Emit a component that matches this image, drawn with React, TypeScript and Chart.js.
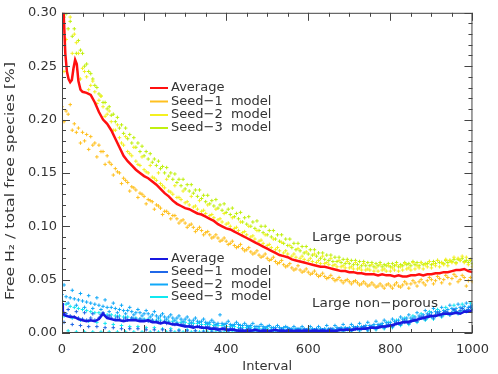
import React, { useEffect, useRef } from "react";
import { Chart, registerables } from "chart.js";
Chart.register(...registerables);

// ---------- DATA ----------
const intervals = [
  0, 10, 20, 30, 40, 50, 60, 70, 80, 90, 100, 110, 120, 130, 140, 150, 160, 170, 180, 190,
  200, 210, 220, 230, 240, 250, 260, 270, 280, 290, 300, 310, 320, 330, 340, 350, 360, 370, 380, 390,
  400, 410, 420, 430, 440, 450, 460, 470, 480, 490, 500, 510, 520, 530, 540, 550, 560, 570, 580, 590,
  600, 610, 620, 630, 640, 650, 660, 670, 680, 690, 700, 710, 720, 730, 740, 750, 760, 770, 780, 790,
  800, 810, 820, 830, 840, 850, 860, 870, 880, 890, 900, 910, 920, 930, 940, 950, 960, 970, 980, 990, 1000,
];
const offsetIntervals = [
  5, 25, 45, 65, 85, 105, 125, 145, 165, 185, 205, 225, 245, 265, 285, 305, 325, 345, 365, 385,
  405, 425, 445, 465, 485, 505, 525, 545, 565, 585, 605, 625, 645, 665, 685, 705, 725, 745, 765, 785,
  805, 825, 845, 865, 885, 905, 925, 945, 965, 985,
];
const offsetIntervals2 = [
  15, 35, 55, 75, 95, 115, 135, 155, 175, 195, 215, 235, 255, 275, 295, 315, 335, 355, 375, 395,
  415, 435, 455, 475, 495, 515, 535, 555, 575, 595, 615, 635, 655, 675, 695, 715, 735, 755, 775, 795,
  815, 835, 855, 875, 895, 915, 935, 955, 975, 995,
];

// Large porous — average line
const avgTopX = [
  0, 4, 8, 12, 16, 20, 24, 28, 32, 36, 40, 45, 50, 60, 70, 80, 90, 100, 110, 120, 130, 140, 150, 160, 170, 180, 190,
  200, 210, 220, 230, 240, 250, 260, 270, 280, 290, 300, 310, 320, 330, 340, 350, 360, 370, 380, 390,
  400, 410, 420, 430, 440, 450, 460, 470, 480, 490, 500, 510, 520, 530, 540, 550, 560, 570, 580, 590,
  600, 610, 620, 630, 640, 650, 660, 670, 680, 690, 700, 710, 720, 730, 740, 750, 760, 770, 780, 790,
  800, 810, 820, 830, 840, 850, 860, 870, 880, 890, 900, 910, 920, 930, 940, 950, 960, 970, 980, 990, 1000,
];
const avgTop = [
  0.34, 0.3, 0.262, 0.245, 0.238, 0.235, 0.237, 0.248, 0.256, 0.252, 0.236, 0.228, 0.226, 0.225, 0.223, 0.216, 0.207, 0.2, 0.196, 0.19, 0.182, 0.174, 0.166, 0.161, 0.157, 0.153, 0.15,
  0.147, 0.145, 0.142, 0.139, 0.135, 0.131, 0.128, 0.124, 0.121, 0.119, 0.117, 0.116, 0.114, 0.112, 0.111, 0.109, 0.107, 0.105, 0.102, 0.1,
  0.098, 0.097, 0.095, 0.093, 0.091, 0.089, 0.087, 0.085, 0.083, 0.081, 0.079, 0.077, 0.075, 0.073, 0.072, 0.071, 0.069, 0.068, 0.067, 0.066,
  0.065, 0.064, 0.063, 0.062, 0.062, 0.061, 0.06, 0.059, 0.058, 0.058, 0.057, 0.057, 0.056, 0.056, 0.055, 0.055, 0.055, 0.054, 0.055, 0.054,
  0.054, 0.053, 0.054, 0.053, 0.053, 0.054, 0.054, 0.055, 0.054, 0.055, 0.055, 0.056, 0.056, 0.057, 0.057, 0.058, 0.059, 0.059, 0.06, 0.058, 0.057,
];

// Large porous — seeds (three sampled bands each)
const seed1TopA = [
  0.212, 0.208, 0.214, 0.196, 0.192, 0.188, 0.186, 0.184, 0.178, 0.176, 0.17, 0.166, 0.158, 0.154, 0.15, 0.145, 0.141, 0.137, 0.134, 0.131,
  0.128, 0.125, 0.123, 0.12, 0.117, 0.114, 0.112, 0.11, 0.107, 0.105, 0.103, 0.101, 0.099, 0.097, 0.096, 0.094, 0.092, 0.09, 0.089, 0.087,
  0.086, 0.084, 0.082, 0.081, 0.079, 0.078, 0.076, 0.075, 0.073, 0.072, 0.07, 0.069, 0.067, 0.066, 0.064, 0.063, 0.061, 0.06, 0.059, 0.058,
  0.057, 0.056, 0.055, 0.054, 0.053, 0.052, 0.051, 0.05, 0.049, 0.049, 0.048, 0.048, 0.047, 0.046, 0.046, 0.045, 0.045, 0.044, 0.044, 0.045,
  0.044, 0.045, 0.044, 0.045, 0.046, 0.046, 0.047, 0.048, 0.047, 0.049, 0.05, 0.049, 0.051, 0.05, 0.052, 0.051, 0.053, 0.05, 0.052, 0.049, 0.048,
];
const seed1TopB = [
  0.198, 0.19, 0.178, 0.172, 0.165, 0.158, 0.148, 0.14, 0.133, 0.127, 0.121, 0.116, 0.111, 0.107, 0.103, 0.099, 0.095, 0.092, 0.089, 0.086,
  0.083, 0.08, 0.077, 0.074, 0.071, 0.068, 0.065, 0.062, 0.059, 0.057, 0.055, 0.053, 0.051, 0.049, 0.047, 0.046, 0.045, 0.044, 0.043, 0.042,
  0.042, 0.043, 0.042, 0.044, 0.045, 0.046, 0.047, 0.046, 0.048, 0.044,
];
const seed1TopC = [
  0.205, 0.188, 0.18, 0.176, 0.17, 0.16, 0.151, 0.143, 0.136, 0.13, 0.124, 0.119, 0.114, 0.11, 0.106, 0.102, 0.099, 0.095, 0.092, 0.089,
  0.086, 0.083, 0.08, 0.077, 0.074, 0.071, 0.068, 0.065, 0.063, 0.06, 0.058, 0.056, 0.054, 0.052, 0.05, 0.049, 0.048, 0.047, 0.046, 0.046,
  0.047, 0.048, 0.049, 0.05, 0.052, 0.053, 0.054, 0.055, 0.054, 0.052,
];
const seed2TopA = [
  0.29, 0.275, 0.296, 0.28, 0.262, 0.248, 0.24, 0.232, 0.226, 0.218, 0.212, 0.205, 0.198, 0.19, 0.183, 0.176, 0.17, 0.166, 0.161, 0.157,
  0.153, 0.15, 0.146, 0.143, 0.14, 0.136, 0.133, 0.13, 0.127, 0.125, 0.122, 0.12, 0.118, 0.116, 0.114, 0.112, 0.11, 0.108, 0.106, 0.104,
  0.102, 0.1, 0.098, 0.096, 0.094, 0.092, 0.09, 0.088, 0.086, 0.084, 0.082, 0.08, 0.078, 0.077, 0.075, 0.074, 0.072, 0.071, 0.07, 0.069,
  0.068, 0.067, 0.066, 0.065, 0.065, 0.064, 0.063, 0.062, 0.062, 0.061, 0.061, 0.06, 0.06, 0.059, 0.059, 0.059, 0.058, 0.058, 0.059, 0.058,
  0.058, 0.059, 0.058, 0.059, 0.06, 0.059, 0.06, 0.061, 0.06, 0.062, 0.061, 0.063, 0.062, 0.064, 0.063, 0.066, 0.065, 0.068, 0.066, 0.064, 0.062,
];
const seed2TopB = [
  0.245, 0.262, 0.238, 0.228, 0.215, 0.203, 0.19, 0.178, 0.168, 0.158, 0.151, 0.145, 0.138, 0.132, 0.127, 0.123, 0.119, 0.115, 0.111, 0.107,
  0.103, 0.099, 0.095, 0.091, 0.087, 0.083, 0.08, 0.077, 0.074, 0.072, 0.07, 0.068, 0.066, 0.064, 0.063, 0.062, 0.061, 0.06, 0.061, 0.06,
  0.061, 0.062, 0.061, 0.063, 0.064, 0.065, 0.066, 0.068, 0.07, 0.071,
];
const seed2TopC = [
  0.302, 0.272, 0.245, 0.236, 0.222, 0.208, 0.195, 0.184, 0.174, 0.165, 0.157, 0.15, 0.144, 0.138, 0.133, 0.128, 0.124, 0.12, 0.116, 0.112,
  0.108, 0.104, 0.1, 0.096, 0.092, 0.088, 0.085, 0.082, 0.079, 0.076, 0.074, 0.072, 0.07, 0.068, 0.067, 0.066, 0.065, 0.064, 0.064, 0.063,
  0.064, 0.065, 0.066, 0.066, 0.067, 0.068, 0.069, 0.071, 0.072, 0.069,
];
const seed3TopA = [
  0.305, 0.299, 0.292, 0.285, 0.274, 0.262, 0.252, 0.243, 0.232, 0.224, 0.216, 0.21, 0.204, 0.198, 0.192, 0.187, 0.182, 0.178, 0.174, 0.17,
  0.166, 0.163, 0.16, 0.157, 0.154, 0.15, 0.147, 0.144, 0.141, 0.138, 0.135, 0.133, 0.131, 0.128, 0.126, 0.123, 0.121, 0.119, 0.117, 0.115,
  0.113, 0.111, 0.109, 0.107, 0.104, 0.102, 0.1, 0.098, 0.096, 0.094, 0.092, 0.09, 0.088, 0.086, 0.084, 0.082, 0.08, 0.078, 0.077, 0.075,
  0.074, 0.073, 0.072, 0.07, 0.069, 0.068, 0.067, 0.067, 0.066, 0.065, 0.065, 0.064, 0.064, 0.063, 0.063, 0.063, 0.062, 0.063, 0.062, 0.063,
  0.062, 0.063, 0.062, 0.063, 0.064, 0.063, 0.064, 0.063, 0.064, 0.065, 0.064, 0.065, 0.066, 0.065, 0.066, 0.067, 0.066, 0.068, 0.067, 0.066, 0.065,
];
const seed3TopB = [
  0.296, 0.278, 0.265, 0.245, 0.23, 0.216, 0.205, 0.195, 0.186, 0.178, 0.17, 0.163, 0.156, 0.15, 0.144, 0.139, 0.134, 0.129, 0.124, 0.12,
  0.116, 0.112, 0.108, 0.104, 0.1, 0.096, 0.092, 0.088, 0.084, 0.081, 0.078, 0.075, 0.073, 0.071, 0.069, 0.068, 0.067, 0.066, 0.065, 0.064,
  0.065, 0.064, 0.065, 0.066, 0.065, 0.067, 0.066, 0.068, 0.069, 0.068,
];
const seed3TopC = [
  0.285, 0.262, 0.25, 0.238, 0.222, 0.212, 0.202, 0.192, 0.183, 0.175, 0.168, 0.161, 0.155, 0.149, 0.144, 0.139, 0.134, 0.129, 0.125, 0.121,
  0.117, 0.113, 0.109, 0.105, 0.1, 0.096, 0.092, 0.088, 0.084, 0.081, 0.078, 0.075, 0.073, 0.071, 0.069, 0.068, 0.067, 0.066, 0.066, 0.065,
  0.066, 0.066, 0.067, 0.066, 0.067, 0.068, 0.068, 0.069, 0.07, 0.068,
];

// Large non-porous — average line
const avgBottomX = [
  0, 2, 5, 10, 20, 30, 40, 50, 60, 70, 80, 90, 100, 110, 120, 130, 140, 150, 160, 170, 180, 190,
  200, 210, 220, 230, 240, 250, 260, 270, 280, 290, 300, 310, 320, 330, 340, 350, 360, 370, 380, 390,
  400, 410, 420, 430, 440, 450, 460, 470, 480, 490, 500, 510, 520, 530, 540, 550, 560, 570, 580, 590,
  600, 610, 620, 630, 640, 650, 660, 670, 680, 690, 700, 710, 720, 730, 740, 750, 760, 770, 780, 790,
  800, 810, 820, 830, 840, 850, 860, 870, 880, 890, 900, 910, 920, 930, 940, 950, 960, 970, 980, 990, 1000,
];
const avgBottom = [
  0.028, 0.021, 0.017, 0.016, 0.015, 0.015, 0.013, 0.012, 0.011, 0.012, 0.011, 0.013, 0.018, 0.014, 0.013, 0.012, 0.012, 0.011, 0.012, 0.012, 0.012, 0.011,
  0.011, 0.012, 0.01, 0.01, 0.009, 0.01, 0.009, 0.008, 0.008, 0.007, 0.006, 0.006, 0.005, 0.006, 0.005, 0.005, 0.004, 0.004, 0.003, 0.004,
  0.003, 0.003, 0.003, 0.002, 0.002, 0.002, 0.002, 0.003, 0.002, 0.002, 0.002, 0.002, 0.003, 0.002, 0.002, 0.002, 0.002, 0.002, 0.002, 0.002,
  0.002, 0.002, 0.002, 0.002, 0.002, 0.002, 0.002, 0.002, 0.003, 0.003, 0.003, 0.003, 0.004, 0.004, 0.004, 0.005, 0.005, 0.005, 0.006, 0.006,
  0.007, 0.008, 0.009, 0.01, 0.01, 0.011, 0.012, 0.013, 0.014, 0.015, 0.016, 0.016, 0.017, 0.018, 0.018, 0.018, 0.019, 0.018, 0.02, 0.02, 0.021,
];

// Large non-porous — seeds
const seed1BotA = [
  0.027, 0.018, 0.016, 0.015, 0.014, 0.013, 0.012, 0.014, 0.012, 0.014, 0.019, 0.015, 0.014, 0.013, 0.013, 0.012, 0.012, 0.014, 0.013, 0.013,
  0.012, 0.011, 0.012, 0.011, 0.01, 0.011, 0.01, 0.009, 0.009, 0.008, 0.007, 0.007, 0.006, 0.006, 0.006, 0.005, 0.005, 0.005, 0.004, 0.004,
  0.004, 0.004, 0.003, 0.003, 0.003, 0.003, 0.003, 0.003, 0.002, 0.003, 0.002, 0.002, 0.003, 0.002, 0.002, 0.003, 0.002, 0.002, 0.002, 0.003,
  0.002, 0.002, 0.003, 0.002, 0.002, 0.003, 0.002, 0.003, 0.003, 0.003, 0.003, 0.004, 0.004, 0.004, 0.005, 0.005, 0.005, 0.006, 0.006, 0.007,
  0.007, 0.008, 0.009, 0.01, 0.011, 0.011, 0.012, 0.014, 0.015, 0.016, 0.016, 0.017, 0.018, 0.019, 0.019, 0.019, 0.02, 0.021, 0.021, 0.022, 0.022,
];
const seed1BotB = [
  0.01, 0.008, 0.007, 0.006, 0.006, 0.005, 0.005, 0.004, 0.004, 0.004, 0.003, 0.003, 0.003, 0.002, 0.002, 0.002, 0.002, 0.001, 0.001, 0.001,
  0.001, 0.001, 0.001, 0.001, 0.001, 0.001, 0.001, 0.001, 0.001, 0.001, 0.001, 0.001, 0.001, 0.002, 0.002, 0.002, 0.003, 0.003, 0.004, 0.005,
  0.006, 0.008, 0.009, 0.011, 0.013, 0.014, 0.016, 0.017, 0.019, 0.021,
];
const seed1BotC = [
  0.022, 0.02, 0.019, 0.018, 0.017, 0.016, 0.015, 0.014, 0.013, 0.012, 0.011, 0.01, 0.009, 0.008, 0.008, 0.007, 0.006, 0.006, 0.005, 0.005,
  0.004, 0.004, 0.004, 0.003, 0.003, 0.003, 0.003, 0.003, 0.003, 0.003, 0.003, 0.003, 0.004, 0.004, 0.004, 0.005, 0.006, 0.006, 0.007, 0.008,
  0.01, 0.012, 0.013, 0.015, 0.017, 0.019, 0.02, 0.022, 0.023, 0.024,
];
const seed2BotA = [
  0.036, 0.034, 0.033, 0.032, 0.031, 0.03, 0.029, 0.028, 0.027, 0.026, 0.025, 0.024, 0.024, 0.023, 0.022, 0.021, 0.021, 0.02, 0.019, 0.019,
  0.018, 0.018, 0.017, 0.016, 0.016, 0.015, 0.015, 0.014, 0.014, 0.013, 0.013, 0.012, 0.012, 0.011, 0.011, 0.01, 0.01, 0.01, 0.009, 0.009,
  0.009, 0.008, 0.008, 0.008, 0.007, 0.007, 0.007, 0.006, 0.006, 0.006, 0.006, 0.005, 0.005, 0.005, 0.005, 0.005, 0.004, 0.004, 0.004, 0.004,
  0.004, 0.004, 0.004, 0.004, 0.004, 0.004, 0.004, 0.005, 0.005, 0.005, 0.005, 0.006, 0.006, 0.006, 0.007, 0.007, 0.008, 0.008, 0.009, 0.01,
  0.01, 0.011, 0.012, 0.013, 0.014, 0.014, 0.015, 0.016, 0.017, 0.018, 0.019, 0.02, 0.02, 0.021, 0.022, 0.023, 0.023, 0.024, 0.025, 0.024, 0.026,
];
const seed2BotB = [
  0.045, 0.04, 0.037, 0.035, 0.033, 0.031, 0.028, 0.026, 0.024, 0.022, 0.021, 0.02, 0.018, 0.017, 0.016, 0.015, 0.014, 0.013, 0.012, 0.017,
  0.011, 0.01, 0.009, 0.009, 0.008, 0.007, 0.007, 0.006, 0.006, 0.006, 0.006, 0.006, 0.007, 0.007, 0.008, 0.008, 0.009, 0.01, 0.011, 0.012,
  0.013, 0.015, 0.017, 0.019, 0.021, 0.023, 0.024, 0.026, 0.027, 0.028,
];
const seed2BotC = [
  0.028, 0.026, 0.024, 0.023, 0.022, 0.02, 0.019, 0.018, 0.017, 0.016, 0.015, 0.014, 0.013, 0.012, 0.011, 0.01, 0.01, 0.009, 0.008, 0.008,
  0.007, 0.007, 0.006, 0.006, 0.005, 0.005, 0.004, 0.004, 0.004, 0.003, 0.003, 0.003, 0.003, 0.004, 0.004, 0.004, 0.005, 0.006, 0.006, 0.007,
  0.009, 0.01, 0.012, 0.014, 0.016, 0.018, 0.02, 0.021, 0.023, 0.025,
];
const seed3BotA = [
  0.03, 0.027, 0.025, 0.024, 0.023, 0.022, 0.021, 0.02, 0.019, 0.019, 0.018, 0.017, 0.017, 0.016, 0.016, 0.015, 0.015, 0.014, 0.014, 0.013,
  0.013, 0.013, 0.012, 0.012, 0.012, 0.011, 0.011, 0.011, 0.01, 0.01, 0.01, 0.009, 0.009, 0.009, 0.008, 0.008, 0.008, 0.007, 0.007, 0.007,
  0.006, 0.006, 0.006, 0.005, 0.005, 0.005, 0.005, 0.004, 0.004, 0.004, 0.004, 0.003, 0.003, 0.003, 0.003, 0.003, 0.003, 0.003, 0.003, 0.003,
  0.003, 0.003, 0.003, 0.003, 0.003, 0.003, 0.003, 0.003, 0.004, 0.004, 0.004, 0.004, 0.004, 0.005, 0.005, 0.005, 0.006, 0.006, 0.007, 0.007,
  0.008, 0.008, 0.009, 0.01, 0.011, 0.011, 0.012, 0.013, 0.014, 0.014, 0.015, 0.016, 0.017, 0.017, 0.018, 0.019, 0.02, 0.02, 0.021, 0.022, 0.023,
];
const seed3BotB = [
  0.016, 0.014, 0.012, 0.011, 0.01, 0.009, 0.008, 0.007, 0.006, 0.006, 0.005, 0.005, 0.004, 0.004, 0.003, 0.003, 0.002, 0.002, 0.002, 0.001,
  0.001, 0.001, 0.001, 0.001, 0.001, 0.001, 0.001, 0.001, 0.001, 0.001, 0.001, 0.001, 0.001, 0.001, 0.001, 0.001, 0.002, 0.002, 0.003, 0.004,
  0.005, 0.007, 0.008, 0.01, 0.012, 0.013, 0.015, 0.017, 0.018, 0.02,
];
const seed3BotC = [
  0.002, 0.001, 0.001, 0.001, 0.001, 0.001, 0.001, 0.001, 0.001, 0.001, 0.001, 0.001, 0.001, 0.001, 0.001, 0.001, 0.001, 0.001, 0.001, 0.001,
  0.001, 0.001, 0.001, 0.001, 0.001, 0.001, 0.001, 0.001, 0.001, 0.002, 0.002, 0.002, 0.002, 0.003, 0.003, 0.004, 0.005, 0.006, 0.008, 0.01,
  0.012, 0.014, 0.016, 0.018, 0.02, 0.022, 0.024, 0.026, 0.027, 0.028,
];

const yTicks = [0, 0.05, 0.1, 0.15, 0.2, 0.25, 0.3];
const xTicks = [0, 200, 400, 600, 800, 1000];

const topLegend = ["Average", "Seed\u22121  model", "Seed\u22122  model", "Seed\u22123  model"];
const botLegend = ["Average", "Seed\u22121  model", "Seed\u22122  model", "Seed\u22123  model"];
const topColors = ["#ff1010", "#ffc020", "#f4f020", "#c0f010"];
const botColors = ["#1818e0", "#2068e8", "#10a8f8", "#10e8f0"];

// ---------- HELPERS ----------
const pts = (xs: number[], ys: number[]) => ys.map((y, i) => ({ x: xs[i], y }));
const FONT = "DejaVu Sans";
const TEXT = "#333333";
const AXIS = "#444444";

const scatterDs = (label: string, xs: number[], ys: number[], color: string) => ({
  type: "scatter" as const,
  label,
  data: pts(xs, ys),
  showLine: false,
  pointStyle: "cross",
  pointRadius: 1.8,
  pointBorderWidth: 1,
  borderColor: color,
  backgroundColor: color,
  clip: 0,
});

const lineDs = (label: string, xs: number[], ys: number[], color: string) => ({
  type: "line" as const,
  label,
  data: pts(xs, ys),
  showLine: true,
  borderColor: color,
  borderWidth: 2.5,
  pointRadius: 0,
  tension: 0,
  fill: false,
  clip: 0,
});

// draw text stretched horizontally to a target width (matches the reference's wider font)
const fitText = (ctx: CanvasRenderingContext2D, t: string, x: number, y: number, w: number) => {
  const m = ctx.measureText(t).width;
  const s = m > 0 ? w / m : 1;
  ctx.save();
  ctx.translate(x, y);
  ctx.scale(s, 1);
  ctx.fillText(t, 0, 0);
  ctx.restore();
};

const decorPlugin = {
  id: "decor",
  afterDatasetsDraw(chart: any) {
    const { ctx, chartArea: a, scales } = chart;
    const xs = scales.x;
    const ys = scales.y;
    ctx.save();
    ctx.strokeStyle = AXIS;
    ctx.lineWidth = 1;
    ctx.strokeRect(a.left + 0.5, a.top + 0.5, a.right - a.left - 1, a.bottom - a.top - 1);
    for (let v = 0; v <= 1000; v += 50) {
      const px = Math.round(xs.getPixelForValue(v)) + 0.5;
      const len = v % 200 === 0 ? 8 : 4;
      ctx.beginPath();
      ctx.moveTo(px, a.bottom);
      ctx.lineTo(px, a.bottom - len);
      ctx.moveTo(px, a.top);
      ctx.lineTo(px, a.top + len);
      ctx.stroke();
    }
    for (let i = 0; i <= 30; i++) {
      const py = Math.round(ys.getPixelForValue(i / 100)) + 0.5;
      const len = i % 5 === 0 ? 8 : 4;
      ctx.beginPath();
      ctx.moveTo(a.left, py);
      ctx.lineTo(a.left + len, py);
      ctx.moveTo(a.right, py);
      ctx.lineTo(a.right - len, py);
      ctx.stroke();
    }
    ctx.font = `13px "${FONT}"`;
    ctx.textBaseline = "middle";
    ctx.textAlign = "left";
    const drawLegend = (labels: string[], colors: string[], rows: number[]) => {
      labels.forEach((t, i) => {
        ctx.strokeStyle = colors[i];
        ctx.lineWidth = 2;
        ctx.beginPath();
        ctx.moveTo(150, rows[i]);
        ctx.lineTo(168, rows[i]);
        ctx.stroke();
        ctx.fillStyle = TEXT;
        ctx.fillText(t, 171, rows[i]);
      });
    };
    drawLegend(topLegend, topColors, [88, 101.5, 115, 128]);
    drawLegend(botLegend, botColors, [259, 272, 284.5, 297]);
    ctx.fillStyle = TEXT;
    fitText(ctx, "Large porous", 312, 238, 90);
    fitText(ctx, "Large non\u2212porous", 312, 304, 126);
    ctx.textAlign = "center";
    ctx.fillText("Interval", (a.left + a.right) / 2, 367);
    ctx.save();
    ctx.translate(11, 181);
    ctx.rotate(-Math.PI / 2);
    fitText(ctx, "Free H\u2082 / total free species [%]", 0, 0, 238);
    ctx.restore();
    ctx.restore();
  },
};

export default function App() {
  const ref = useRef<HTMLCanvasElement>(null);
  useEffect(() => {
    if (!ref.current) return;
    const chart = new Chart(ref.current, {
      type: "scatter",
      data: {
        datasets: [
          lineDs("Average (large porous)", avgTopX, avgTop, topColors[0]),
          lineDs("Average (large non-porous)", avgBottomX, avgBottom, botColors[0]),
          scatterDs("Seed-1 porous A", intervals, seed1TopA, topColors[1]),
          scatterDs("Seed-1 porous B", offsetIntervals, seed1TopB, topColors[1]),
          scatterDs("Seed-1 porous C", offsetIntervals2, seed1TopC, topColors[1]),
          scatterDs("Seed-2 porous A", intervals, seed2TopA, topColors[2]),
          scatterDs("Seed-2 porous B", offsetIntervals, seed2TopB, topColors[2]),
          scatterDs("Seed-2 porous C", offsetIntervals2, seed2TopC, topColors[2]),
          scatterDs("Seed-3 porous A", intervals, seed3TopA, topColors[3]),
          scatterDs("Seed-3 porous B", offsetIntervals, seed3TopB, topColors[3]),
          scatterDs("Seed-3 porous C", offsetIntervals2, seed3TopC, topColors[3]),
          scatterDs("Seed-1 non-porous A", intervals, seed1BotA, botColors[1]),
          scatterDs("Seed-1 non-porous B", offsetIntervals, seed1BotB, botColors[1]),
          scatterDs("Seed-1 non-porous C", offsetIntervals2, seed1BotC, botColors[1]),
          scatterDs("Seed-2 non-porous A", intervals, seed2BotA, botColors[2]),
          scatterDs("Seed-2 non-porous B", offsetIntervals, seed2BotB, botColors[2]),
          scatterDs("Seed-2 non-porous C", offsetIntervals2, seed2BotC, botColors[2]),
          scatterDs("Seed-3 non-porous A", intervals, seed3BotA, botColors[3]),
          scatterDs("Seed-3 non-porous B", offsetIntervals, seed3BotB, botColors[3]),
          scatterDs("Seed-3 non-porous C", offsetIntervals2, seed3BotC, botColors[3]),
        ] as any,
      },
      options: {
        animation: false,
        responsive: false,
        devicePixelRatio: 1,
        layout: { padding: { top: 7, right: 19, left: 0, bottom: 0 } },
        plugins: { legend: { display: false }, tooltip: { enabled: false } },
        scales: {
          x: {
            type: "linear",
            min: 0,
            max: 1000,
            afterFit: (s: any) => { s.height = 41; },
            afterBuildTicks: (s: any) => { s.ticks = xTicks.map((v) => ({ value: v })); },
            grid: { display: false, drawTicks: false },
            border: { display: false },
            ticks: {
              padding: 9,
              color: TEXT,
              font: { family: FONT, size: 13 },
              callback: (v: any) => String(v),
              maxRotation: 0,
            },
          },
          y: {
            type: "linear",
            min: 0,
            max: 0.3,
            afterFit: (s: any) => { s.width = 62; },
            afterBuildTicks: (s: any) => { s.ticks = yTicks.map((v) => ({ value: v })); },
            grid: { display: false, drawTicks: false },
            border: { display: false },
            ticks: {
              padding: 5,
              color: TEXT,
              font: { family: FONT, size: 13 },
              callback: (v: any) => Number(v).toFixed(2),
            },
          },
        },
      },
      plugins: [decorPlugin],
    });
    return () => chart.destroy();
  }, []);
  return (
    <div style={{ position: "fixed", left: 0, top: 0, width: 498, height: 374, background: "#fff" }}>
      <canvas ref={ref} width={498} height={374} style={{ width: 498, height: 374, display: "block" }} />
    </div>
  );
}
